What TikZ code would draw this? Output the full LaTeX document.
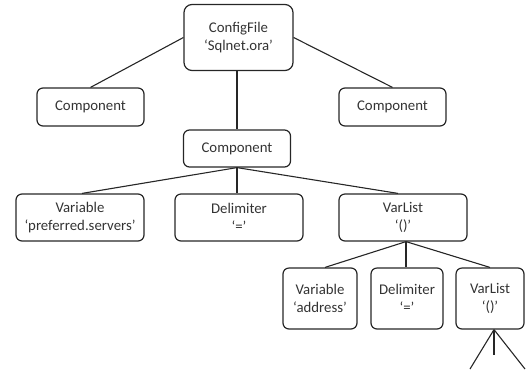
\documentclass[tikz,border=0pt]{standalone}
\usepackage{fontspec}
\setmainfont{Carlito}
\begin{document}
\begin{tikzpicture}[x=1pt,y=-1pt,
  box/.style={draw=black!85, line width=1.2pt, rounded corners=6pt, inner sep=0pt,
    align=center, text=black!80, font=\fontsize{14.8}{17.5}\selectfont},
  link/.style={draw=black!85, line width=1.1pt}]
\useasboundingbox (0,0) rectangle (526,373);
\node[box, rounded corners=8pt, minimum width=109pt, minimum height=66pt] (cfg) at (238.5,37.5) {ConfigFile\\‘Sqlnet.ora’};
\node[box, minimum width=107pt, minimum height=38pt] (cl) at (90.5,107) {Component};
\node[box, minimum width=107pt, minimum height=38pt] (cr) at (392.5,107) {Component};
\node[box, minimum width=107pt, minimum height=37pt] (cm) at (237,148.5) {Component};
\node[box, minimum width=128pt, minimum height=47pt] (v1) at (80,217.5) {Variable\\‘preferred.servers’};
\node[box, minimum width=128pt, minimum height=47pt] (d1) at (239,217.5) {Delimiter\\‘=’};
\node[box, minimum width=128pt, minimum height=47pt] (l1) at (403,217.5) {VarList\\‘()’};
\node[box, minimum width=74pt, minimum height=61pt] (v2) at (320,298.5) {Variable\\‘address’};
\node[box, minimum width=72pt, minimum height=61pt] (d2) at (407,298.5) {Delimiter\\‘=’};
\node[box, minimum width=68pt, minimum height=61pt] (l2) at (490,298.5) {VarList\\‘()’};
\coordinate (e1) at (470,369);
\coordinate (e2) at (494,355);
\coordinate (e3) at (525,369);
\draw[link] (cfg.west) -- (cl.north);
\draw[link] (cfg.east) -- (cr.north);
\draw[link] (cm.north |- cfg.south) -- (cm.north);
\draw[link] (cm.south) -- ([xshift=2pt]v1.north);
\draw[link] (cm.south) -- (cm.south |- d1.north);
\draw[link] (cm.south) -- ([xshift=-5pt]l1.north);
\draw[link] ([xshift=3pt]l1.south) -- ([xshift=5pt]v2.north);
\draw[link] ([xshift=3pt]l1.south) -- ([xshift=-1pt]d2.north);
\draw[link] ([xshift=3pt]l1.south) -- (l2.north);
\draw[link] ([xshift=4pt]l2.south) -- (e1);
\draw[link] ([xshift=4pt]l2.south) -- (e2);
\draw[link] ([xshift=4pt]l2.south) -- (e3);
\end{tikzpicture}
\end{document}
